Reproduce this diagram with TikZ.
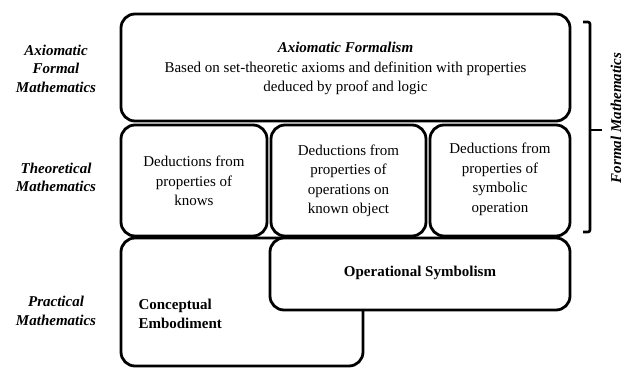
\documentclass[tikz,border=0pt]{standalone}
\usepackage{fontspec}
\setmainfont{Liberation Serif}
\begin{document}
\begin{tikzpicture}[x=1pt,y=-1pt,
  box/.style={draw, line width=2.8pt, rounded corners=14pt, fill=white, inner sep=0pt},
  txt/.style={font=\fontsize{15}{19.5}\selectfont, align=center},
  btxt/.style={font=\fontsize{15}{18.5}\selectfont\bfseries},
  lab/.style={font=\fontsize{15}{18.5}\selectfont\bfseries\itshape, align=center},
  bracket/.style={line width=2.6pt, rounded corners=2pt}]
\useasboundingbox (0,0) rectangle (626,367);
% top box
\node[box, minimum width=449pt, minimum height=107pt] (ax) at (345.5,67.5) {};
\node[txt] (axt) at (345.5,68.5) {\textbf{\textit{Axiomatic Formalism}}\\Based on set-theoretic axioms and definition with properties\\deduced by proof and logic};
% middle boxes
\node[box, minimum width=146pt, minimum height=111pt] (m1) at (194,180.5) {};
\node[txt] (m1t) at (194,181) {Deductions from\\properties of\\knows};
\node[box, minimum width=155pt, minimum height=111pt] (m2) at (348.5,180.5) {};
\node[txt] (m2t) at (348.5,181) {Deductions from\\properties of\\operations on\\known object};
\node[box, minimum width=140pt, minimum height=111pt] (m3) at (500,180.5) {};
\node[txt] (m3t) at (500,179.5) {Deductions from\\properties of\\symbolic\\operation};
% bottom boxes
\node[box, minimum width=242pt, minimum height=128pt] (ce) at (242,302) {};
\node[btxt, align=left, anchor=west] (cet) at (135,314) {Conceptual\\Embodiment};
\node[box, minimum width=300pt, minimum height=72pt] (os) at (420,274) {};
\node[btxt] (ost) at (420,273) {Operational Symbolism};
% left labels
\node[lab] (l1) at (56,68.5) {Axiomatic\\Formal\\Mathematics};
\node[lab] (l2) at (56,177.5) {Theoretical\\Mathematics};
\node[lab] (l3) at (56,311) {Practical\\Mathematics};
% bracket
\coordinate (bt) at (583,22);
\coordinate (bb) at (583,232);
\coordinate (bm) at (590,130);
\coordinate (btip) at (602,130);
\draw[bracket] (bt) -- (590,22) -- (590,232) -- (bb);
\draw[bracket] (bm) -- (btip);
\node[lab, rotate=90, inner sep=0pt] (fm) at (616,118) {Formal Mathematics};
\end{tikzpicture}
\end{document}
